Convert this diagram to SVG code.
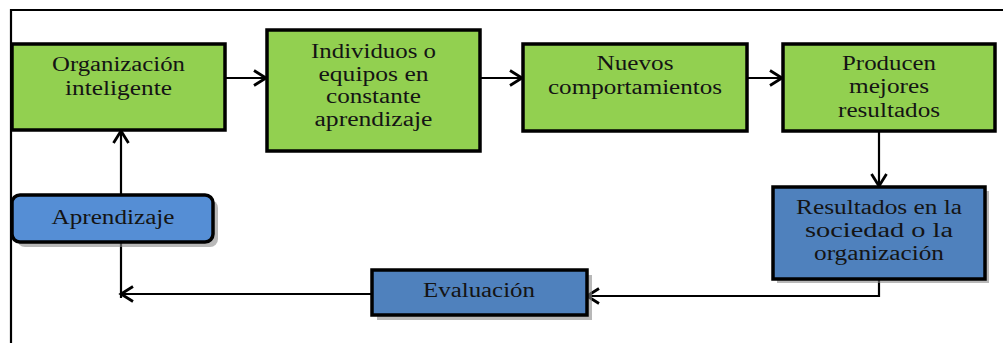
<svg xmlns="http://www.w3.org/2000/svg" width="1003" height="343" viewBox="0 0 1003 343">
<style>
.g{fill:#92D050;stroke:#000;stroke-width:3.5}
.b{fill:#4F81BD;stroke:#000;stroke-width:3.5}
.bl{fill:#558ED5;stroke:#000;stroke-width:3.5}
.sh{fill:#888;opacity:0.6}
text{font-family:"Liberation Serif","Times New Roman",serif;font-size:20px;fill:#141414;text-anchor:middle}
.c{fill:none;stroke:#000;stroke-width:2.2}
</style>
<defs>
<marker id="ah" markerUnits="userSpaceOnUse" markerWidth="18" markerHeight="20" refX="14" refY="9" orient="auto" viewBox="0 0 18 18">
<path d="M2,1.5 L14,9 L2,16.5" fill="none" stroke="#000" stroke-width="2.8"/>
</marker>
</defs>
<path d="M11,343 L11,10 L1003,10" fill="none" stroke="#000" stroke-width="2.2"/>
<g id="connectors">
<line class="c" x1="225" y1="78" x2="266" y2="78" marker-end="url(#ah)"/>
<line class="c" x1="480" y1="78" x2="522" y2="78" marker-end="url(#ah)"/>
<line class="c" x1="747" y1="78" x2="782" y2="78" marker-end="url(#ah)"/>
<line class="c" x1="879" y1="131" x2="879" y2="186" marker-end="url(#ah)"/>
<polyline class="c" points="879,279 879,296 587,296" marker-end="url(#ah)"/>
<line class="c" x1="372" y1="294" x2="121" y2="294" marker-end="url(#ah)"/>
<line class="c" x1="121" y1="242" x2="121" y2="298"/>
<line class="c" x1="121" y1="195" x2="121" y2="131" marker-end="url(#ah)"/>
</g>
<g id="n1">
<rect class="g" x="12" y="44" width="213" height="86"/>
<text x="118.5" y="71" textLength="133" lengthAdjust="spacingAndGlyphs">Organización</text>
<text x="118.5" y="95" textLength="107" lengthAdjust="spacingAndGlyphs">inteligente</text>
</g>
<g id="n2">
<rect class="g" x="267" y="30" width="213" height="121"/>
<text x="373.5" y="58" textLength="125" lengthAdjust="spacingAndGlyphs">Individuos o</text>
<text x="373.5" y="81" textLength="110" lengthAdjust="spacingAndGlyphs">equipos en</text>
<text x="373.5" y="103" textLength="95" lengthAdjust="spacingAndGlyphs">constante</text>
<text x="373.5" y="126" textLength="118" lengthAdjust="spacingAndGlyphs">aprendizaje</text>
</g>
<g id="n3">
<rect class="g" x="523" y="44" width="224" height="87"/>
<text x="635" y="70" textLength="77" lengthAdjust="spacingAndGlyphs">Nuevos</text>
<text x="635" y="94" textLength="174" lengthAdjust="spacingAndGlyphs">comportamientos</text>
</g>
<g id="n4">
<rect class="g" x="783" y="44" width="212" height="87"/>
<text x="889" y="70" textLength="94" lengthAdjust="spacingAndGlyphs">Producen</text>
<text x="889" y="93" textLength="80" lengthAdjust="spacingAndGlyphs">mejores</text>
<text x="889" y="117" textLength="102" lengthAdjust="spacingAndGlyphs">resultados</text>
</g>
<g id="n5">
<rect class="sh" x="777" y="191" width="212" height="92"/>
<rect class="b" x="773" y="187" width="212" height="92"/>
<text x="879" y="214" textLength="166" lengthAdjust="spacingAndGlyphs">Resultados en la</text>
<text x="879" y="237" textLength="148" lengthAdjust="spacingAndGlyphs">sociedad o la</text>
<text x="879" y="260" textLength="130" lengthAdjust="spacingAndGlyphs">organización</text>
</g>
<g id="n6">
<rect class="sh" x="377" y="275" width="215" height="45"/>
<rect class="b" x="372" y="270" width="215" height="45"/>
<text x="479" y="297" textLength="112" lengthAdjust="spacingAndGlyphs">Evaluación</text>
</g>
<g id="n7">
<rect class="sh" x="17" y="200" width="201" height="47" rx="8"/>
<rect class="bl" x="12" y="195" width="201" height="47" rx="8"/>
<text x="113" y="224" textLength="123" lengthAdjust="spacingAndGlyphs">Aprendizaje</text>
</g>
</svg>
